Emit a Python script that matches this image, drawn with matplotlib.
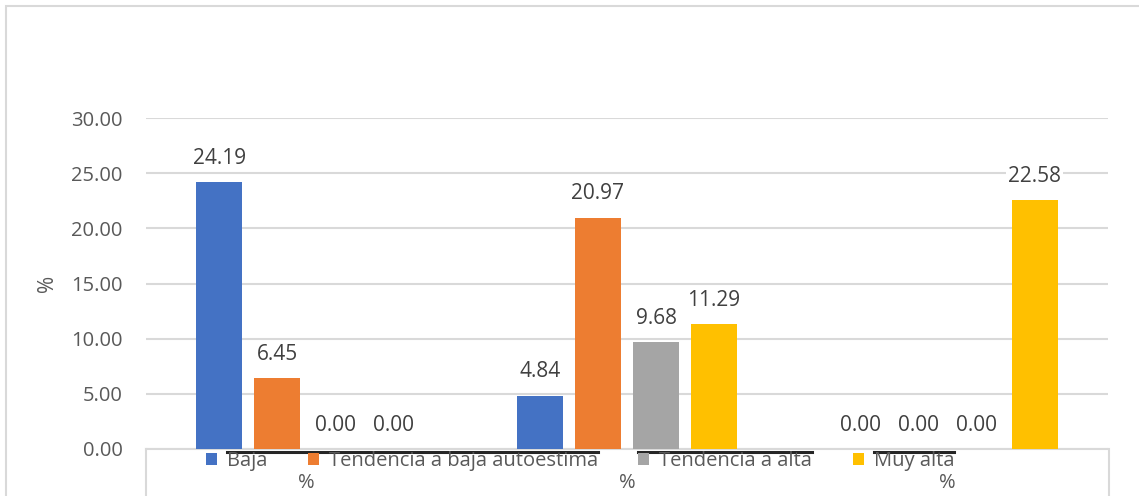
import numpy as np
import matplotlib
matplotlib.use("Agg")
from matplotlib import pyplot as plt
from matplotlib.patches import Rectangle
from matplotlib.lines import Line2D

plt.rcParams['font.family'] = ['Open Sans', 'DejaVu Sans']

# data
groups = ["%", "%", "%"]
series = ["Baja", "Tendencia a baja autoestima", "Tendencia a alta", "Muy alta"]
baja = [24.19, 4.84, 0.00]
tend_baja = [6.45, 20.97, 0.00]
tend_alta = [0.00, 9.68, 0.00]
muy_alta = [0.00, 11.29, 22.58]
yticks = [0, 5, 10, 15, 20, 25, 30]

values = [baja, tend_baja, tend_alta, muy_alta]
colors = ["#4472C4", "#ED7D31", "#A5A5A5", "#FFC000"]
txt = "#595959"
grid = "#D9D9D9"

W, H = 1139, 496
fig = plt.figure(figsize=(W / 100, H / 100), dpi=100)
ax = fig.add_axes([146 / W, (H - 449) / H, 962 / W, 331 / H])

x = np.arange(len(groups))
step = 0.181
width = 0.143
for i, (name, vals, c) in enumerate(zip(series, values, colors)):
    pos = x + (i - 1.5) * step
    ax.bar(pos, vals, width, color=c, label=name, zorder=3)
    for px, v in zip(pos, vals):
        ax.annotate(f"{v:.2f}", (px, v), xytext=(0, 9.5), textcoords="offset points",
                    ha="center", va="bottom", fontsize=15, color="#404040", zorder=4,
                    bbox=dict(boxstyle="square,pad=0.1", fc="white", ec="none"))

ax.set_xlim(-0.5, 2.5)
ax.set_ylim(0, 30)
ax.set_yticks(yticks)
ax.set_yticklabels([f"{t:.2f}" for t in yticks])
ax.yaxis.grid(True, color=grid, linewidth=1.5, zorder=0)
ax.set_xticks(x)
ax.set_xticklabels(groups)
ax.tick_params(axis="both", length=0, labelsize=14.5, labelcolor=txt)
ax.tick_params(axis="y", pad=17)
ax.tick_params(axis="x", pad=17)
for s in ["top", "right", "left"]:
    ax.spines[s].set_visible(False)
ax.spines["bottom"].set_color(grid)
ax.spines["bottom"].set_linewidth(1.5)
ax.set_ylabel("%", fontsize=15, color=txt, labelpad=9)

# box under the category axis
for xp in [146, 1109]:
    fig.add_artist(Line2D([xp / W, xp / W], [0, (H - 449) / H], color=grid, lw=1.5))

# outer chart border
fig.add_artist(Rectangle((6 / W, -0.2), 1.2, 1.2 - 6 / H, transform=fig.transFigure,
                         fill=False, ec=grid, lw=1.5))

leg = fig.legend(loc="center left", bbox_to_anchor=(206 / W, (H - 461) / H), ncol=4,
                 frameon=False, fontsize=14.5, handlelength=0.55, handleheight=0.55,
                 handletextpad=0.5, columnspacing=2.0, borderpad=0, borderaxespad=0)
for t in leg.get_texts():
    t.set_color(txt)

# dark strokes across the top of the legend entries
fig.canvas.draw()
r = fig.canvas.get_renderer()
te = [t.get_window_extent(r) for t in leg.get_texts()]
he = [h.get_window_extent(r) for h in leg.legend_handles]
yl = (H - 452) / H
for a, b in [(te[0].x0, te[1].x1), (he[2].x0, te[2].x1), (te[3].x0, te[3].x1)]:
    fig.add_artist(Line2D([a / W, b / W], [yl, yl], color="#262626", lw=2.2))

fig.savefig("out.png", dpi=100)
